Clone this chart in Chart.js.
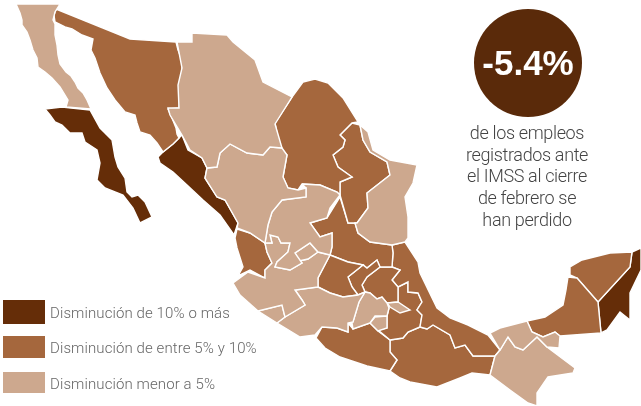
<!DOCTYPE html>
<html lang="es">
<head>
<meta charset="utf-8">
<title>Empleos IMSS</title>
<script src="https://cdn.jsdelivr.net/npm/chart.js@4"></script>
<style>
    body { margin: 0; background: #fff; }
    #wrap { position: relative; width: 641px; height: 406px; overflow: hidden; font-family: Roboto, sans-serif; }
    #chart { position: absolute; left: 0; top: 0; }
    .swatch { position: absolute; left: 3px; width: 42px; }
    .key { position: absolute; left: 50px; font-size: 15px; font-weight: 300; line-height: 18px; letter-spacing: 0.1px; color: #666; white-space: nowrap; }
    #big { position: absolute; left: 468px; width: 120px; top: 42px; text-align: center; color: #fff; font: bold 35px/42px "Liberation Sans", sans-serif; }
    #note { position: absolute; left: 447px; width: 160px; top: 122px; text-align: center; color: #444; font-size: 18px; font-weight: 300; line-height: 21.7px; letter-spacing: -0.35px; }
</style>
</head>
<body>
<div id="wrap">
    <canvas id="chart" width="641" height="406"></canvas>
    <div id="big"></div>
    <div id="note"></div>
</div>
<script>
// niveles de disminucion
const levelLabels = ['Disminución de 10% o más', 'Disminución de entre 5% y 10%', 'Disminución menor a 5%'];
const levelColors = ['#652d08', '#a5673d', '#cda88e'];
const bubbleValue = '-5.4%';
const noteLines = ['de los empleos', 'registrados ante', 'el IMSS al cierre', 'de febrero se', 'han perdido'];
const bubblePoint = [528, 63];

// contornos de los estados [x, y]
const bajaCalifornia = [[16,4],[60,4],[55,12],[53,20],[55,24],[55,35],[57,45],[58,55],[60,64],[66,72],[71,76],[75,82],[78,88],[83,93],[87,100],[91,109],[66,107],[68,100],[65,95],[60,87],[52,78],[45,72],[38,67],[37,58],[33,50],[30,40],[27,32],[22,25],[22,20],[20,13]];
const sonora = [[56,9],[130,39],[176,42],[178,50],[182,60],[182,72],[179,85],[180,100],[179,108],[168,109],[172,118],[176,128],[177,134],[179,138],[173,144],[163,152],[157,143],[150,135],[140,132],[137,123],[135,115],[125,112],[115,100],[107,88],[100,73],[95,58],[91,50],[93,39],[82,35],[72,29],[65,27],[55,22],[54,15]];
const bajaSur = [[45,109],[50,115],[55,122],[62,125],[70,133],[82,133],[85,142],[97,150],[100,163],[97,180],[105,188],[123,195],[133,208],[140,223],[152,217],[145,202],[138,195],[132,197],[127,192],[125,178],[118,167],[115,157],[112,140],[100,128],[90,110],[62,107]];
const sinaloa = [[158,157],[163,152],[173,144],[182,135],[188,150],[202,158],[207,168],[205,178],[217,197],[225,200],[238,223],[234,235],[220,215],[203,200],[187,185],[173,172],[160,163]];
const chihuahua = [[177,42],[192,42],[192,33],[227,35],[233,42],[255,60],[263,82],[292,97],[275,124],[282,148],[270,147],[263,155],[247,153],[230,144],[220,153],[217,167],[207,168],[202,158],[190,150],[182,135],[170,115],[168,108],[179,108],[178,85],[182,68]];
const coahuila = [[292,97],[303,82],[315,79],[328,83],[343,98],[358,122],[352,123],[340,135],[345,140],[343,147],[333,155],[338,167],[352,177],[340,182],[340,195],[337,192],[320,185],[302,184],[298,190],[288,188],[283,177],[287,155],[280,148],[275,123]];
const nuevoLeon = [[360,125],[352,123],[340,135],[345,140],[343,147],[333,155],[338,167],[352,177],[340,182],[340,195],[348,223],[357,223],[368,208],[367,193],[390,175],[387,162],[370,152],[363,140]];
const tamaulipas = [[360,125],[368,132],[373,150],[390,160],[417,165],[413,183],[405,197],[408,217],[408,238],[405,242],[392,245],[370,242],[358,233],[355,223],[357,223],[368,208],[367,193],[390,175],[387,162],[370,152],[363,140]];
const durango = [[207,168],[217,167],[220,153],[230,144],[247,153],[263,155],[270,147],[282,148],[287,155],[283,177],[288,188],[298,190],[306,188],[306,197],[282,200],[272,212],[268,225],[265,243],[250,233],[237,228],[238,223],[225,200],[217,197],[205,178]];
const zacatecas = [[302,184],[320,185],[337,192],[340,195],[330,208],[327,218],[310,223],[320,237],[332,233],[332,247],[330,255],[318,252],[310,243],[295,253],[302,263],[290,270],[275,267],[277,262],[288,252],[290,243],[281,243],[278,237],[270,235],[272,243],[265,243],[268,225],[272,212],[282,200],[306,197],[306,188]];
const aguascalientes = [[295,253],[310,243],[318,252],[308,259],[299,261]];
const nayarit = [[237,229],[250,233],[265,243],[267,252],[272,263],[265,270],[265,278],[250,270],[238,276],[243,267],[237,248],[235,238]];
const jalisco = [[233,283],[248,272],[265,278],[265,270],[272,263],[267,252],[265,243],[272,243],[270,235],[278,237],[281,243],[290,243],[288,252],[277,262],[275,267],[290,270],[302,263],[299,261],[308,259],[318,252],[330,255],[318,278],[318,287],[295,290],[302,300],[305,305],[285,317],[282,305],[258,311],[240,295]];
const colima = [[258,311],[282,305],[285,317],[277,323]];
const michoacan = [[295,290],[318,287],[330,293],[343,297],[358,295],[365,292],[359,302],[353,322],[348,323],[348,332],[337,328],[322,327],[315,335],[300,337],[277,323],[285,317],[305,305],[302,300]];
const guanajuato = [[330,255],[348,262],[363,265],[348,277],[352,287],[358,295],[343,297],[330,293],[318,287],[318,278]];
const queretaro = [[348,277],[363,265],[367,268],[377,260],[380,267],[367,277],[362,285],[365,292],[358,295],[352,287]];
const sanLuis = [[340,197],[348,223],[355,223],[358,233],[370,242],[392,245],[393,253],[392,267],[380,267],[377,260],[367,268],[363,265],[348,262],[330,255],[332,247],[332,233],[320,237],[310,223],[327,218]];
const hidalgo = [[380,267],[392,267],[400,270],[392,280],[398,287],[398,302],[387,303],[382,297],[377,299],[370,293],[365,292],[362,285],[367,277]];
const veracruz = [[392,245],[405,242],[418,262],[420,273],[437,308],[450,318],[468,325],[488,335],[500,350],[495,356],[473,356],[465,345],[455,348],[450,335],[433,325],[427,329],[420,327],[422,315],[417,310],[422,302],[418,293],[408,292],[408,282],[398,287],[392,280],[400,270],[392,267],[393,253]];
const puebla = [[398,287],[408,282],[408,292],[418,293],[422,302],[417,310],[422,315],[420,327],[408,332],[403,338],[390,340],[378,330],[387,328],[387,316],[389,308],[387,303],[398,302]];
const edomex = [[365,292],[370,293],[377,299],[382,297],[387,303],[389,308],[387,316],[375,316],[370,323],[353,329],[352,323],[348,323],[353,322],[359,302]];
const cdmx = [[378,307],[382,313],[375,313]];
const morelos = [[370,323],[375,317],[387,316],[387,328],[378,331]];
const tlaxcala = [[387,303],[398,302],[410,310],[400,313],[390,307]];
const guerrero = [[316,338],[322,327],[337,328],[348,332],[348,323],[353,329],[370,323],[378,331],[390,340],[390,352],[397,360],[390,371],[367,366],[340,357],[325,348]];
const oaxaca = [[390,340],[403,338],[408,332],[420,327],[427,329],[433,325],[450,335],[455,348],[465,345],[473,356],[495,356],[490,375],[472,373],[460,378],[437,387],[410,382],[400,378],[390,371],[397,360],[390,352]];
const tabasco = [[490,333],[500,328],[527,321],[532,332],[543,337],[555,332],[560,336],[559,348],[547,347],[537,337],[523,350],[515,347],[508,337],[500,350]];
const chiapas = [[495,356],[500,350],[508,337],[515,347],[523,350],[537,337],[547,347],[575,368],[573,373],[548,377],[537,393],[537,406],[528,403],[510,390],[490,375]];
const campeche = [[527,321],[545,317],[563,305],[566,290],[568,277],[577,278],[598,302],[601,333],[560,336],[555,332],[543,337],[532,332]];
const yucatan = [[570,267],[582,260],[610,253],[632,252],[630,267],[598,302],[577,278],[570,275]];
const quintanaRoo = [[632,252],[641,248],[641,270],[630,293],[630,320],[620,312],[607,330],[601,333],[598,302],[630,267]];

const level1 = [bajaSur, sinaloa, quintanaRoo];
const level2 = [sonora, coahuila, nuevoLeon, nayarit, guanajuato, queretaro, sanLuis, hidalgo, veracruz, puebla, cdmx, guerrero, oaxaca, campeche, yucatan];
const level3 = [bajaCalifornia, chihuahua, tamaulipas, durango, zacatecas, aguascalientes, jalisco, colima, michoacan, edomex, morelos, tlaxcala, tabasco, chiapas];

function toDataset(shape, level) {
    const pts = shape.map(function(p) { return { x: p[0], y: p[1] }; });
    pts.push({ x: shape[0][0], y: shape[0][1] });
    return {
        data: pts,
        showLine: true,
        fill: 'shape',
        backgroundColor: levelColors[level],
        borderColor: '#fff',
        borderWidth: 1.4,
        pointRadius: 0,
        tension: 0
    };
}

const datasets = [];
level3.forEach(function(s) { datasets.push(toDataset(s, 2)); });
level2.forEach(function(s) { datasets.push(toDataset(s, 1)); });
level1.forEach(function(s) { datasets.push(toDataset(s, 0)); });
// los mas chicos van encima
[aguascalientes, edomex, morelos, tlaxcala].forEach(function(s) { datasets.push(toDataset(s, 2)); });
datasets.push(toDataset(cdmx, 1));
datasets.push({
    data: [{ x: bubblePoint[0], y: bubblePoint[1] }],
    pointRadius: 54,
    pointHoverRadius: 54,
    pointBackgroundColor: '#5a2a0a',
    pointBorderWidth: 0,
    showLine: false
});

new Chart(document.getElementById('chart'), {
    type: 'scatter',
    data: { datasets: datasets },
    options: {
        responsive: false,
        animation: false,
        layout: { padding: 0, autoPadding: false },
        plugins: { legend: { display: false }, tooltip: { enabled: false } },
        scales: {
            x: { type: 'linear', min: 0, max: 641, display: false },
            y: { type: 'linear', min: 0, max: 406, reverse: true, display: false }
        }
    }
});

// leyenda y textos
const wrap = document.getElementById('wrap');
const swatchTops = [300, 336, 372];
const swatchHeights = [24, 22, 21];
const keyTops = [304, 339, 375];
levelLabels.forEach(function(label, i) {
    const box = document.createElement('div');
    box.className = 'swatch';
    box.style.top = swatchTops[i] + 'px';
    box.style.height = swatchHeights[i] + 'px';
    box.style.background = levelColors[i];
    wrap.appendChild(box);
    const key = document.createElement('div');
    key.className = 'key';
    key.style.top = keyTops[i] + 'px';
    key.textContent = label;
    wrap.appendChild(key);
});
document.getElementById('big').textContent = bubbleValue;
document.getElementById('note').innerHTML = noteLines.join('<br>');
</script>
</body>
</html>
